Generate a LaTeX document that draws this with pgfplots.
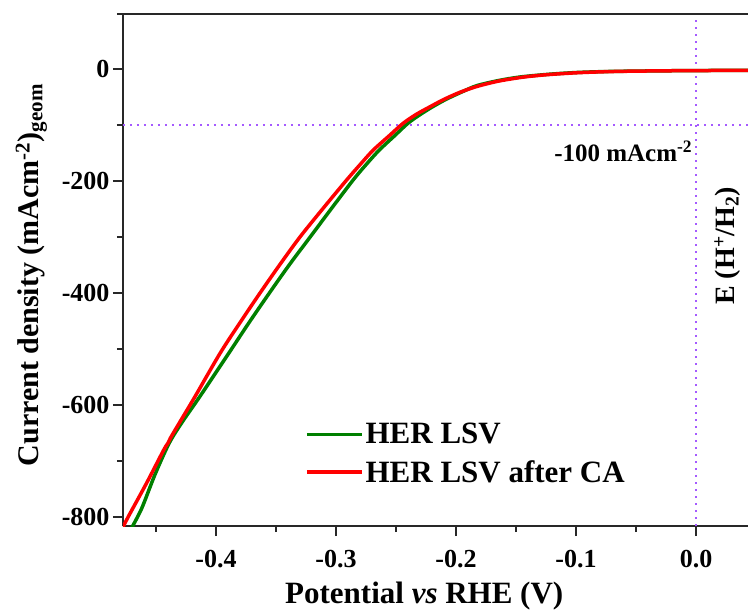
\documentclass[border=0pt]{standalone}
\usepackage{fontspec}
\setmainfont{Liberation Serif}
\usepackage{pgfplots}
\pgfplotsset{compat=1.18}
\definecolor{myviolet}{RGB}{165,90,255}
\definecolor{mygreen}{RGB}{0,128,0}
\definecolor{axc}{RGB}{40,40,40}
\begin{document}
\begin{tikzpicture}
\begin{axis}[
 name=ax,
 scale only axis, width=625pt, height=512pt,
 xmin=-0.4775, xmax=0.0433, ymin=-816, ymax=98,
 axis lines*=left,
 axis line style={line width=2pt, color=axc},
 tick align=outside,
 major tick length=10pt, minor tick length=6pt,
 every tick/.style={line width=1.5pt, axc},
 xtick={-0.4,-0.3,-0.2,-0.1,0.0},
 xticklabels={-0.4,-0.3,-0.2,-0.1,0.0},
 minor xtick={-0.45,-0.35,-0.25,-0.15,-0.05},
 ytick={-800,-600,-400,-200,0},
 yticklabels={-800,-600,-400,-200,0},
 minor ytick={-700,-500,-300,-100},
 tick label style={font=\fontsize{26}{31}\selectfont\bfseries},
 xticklabel style={yshift=-11pt},
 xlabel={Potential \textit{vs} RHE (V)},
 ylabel={Current density (mAcm\textsuperscript{-2})\textsubscript{geom}},
 xlabel style={at={(axis description cs:0.482,-0.152)}, anchor=base, font=\fontsize{31}{37}\selectfont\bfseries},
 ylabel style={at={(axis description cs:-0.135,0.49)}, anchor=base, font=\fontsize{30}{36}\selectfont\bfseries},
 legend style={at={(0.291,0.205)}, anchor=north west, draw=none, fill=none, font=\fontsize{31}{37}\selectfont\bfseries, row sep=11pt, inner sep=0pt},
 legend cell align=left,
 legend image code/.code={\draw[#1] (0pt,0pt) -- (55pt,0pt);},
]
\addplot[myviolet, line width=2pt, dash pattern=on 2pt off 5pt, forget plot] coordinates {(-0.4775,-100) (0.0433,-100)};
\addplot[myviolet, line width=2pt, dash pattern=on 2pt off 5pt, forget plot] coordinates {(0,-816) (0,98)};
\addplot[mygreen, line width=3.5pt, smooth, tension=0.5] coordinates {
(0.0433,-2.5) (0.0,-3) (-0.03,-3.5) (-0.06,-4.2) (-0.08,-5) (-0.10,-6.5) (-0.122,-9.5) (-0.1467,-14.5) (-0.165,-21) (-0.1828,-30) (-0.195,-41) (-0.208,-54) (-0.219,-67) (-0.2295,-81) (-0.240,-97) (-0.2515,-120) (-0.264,-145) (-0.275,-171) (-0.2856,-198) (-0.303,-247) (-0.3215,-300) (-0.339,-350) (-0.3555,-400) (-0.3725,-453) (-0.3895,-508) (-0.4135,-585) (-0.428,-630) (-0.439,-668) (-0.451,-725) (-0.462,-785) (-0.471,-822)};
\addlegendentry{HER LSV}
\addplot[red, line width=3.5pt, smooth, tension=0.5] coordinates {
(0.0433,-2.5) (0.02,-2.8) (0.0,-3) (-0.03,-3.5) (-0.06,-4.3) (-0.08,-5.3) (-0.10,-7) (-0.122,-10) (-0.135,-12.5) (-0.1467,-15.5) (-0.165,-22) (-0.1828,-31.5) (-0.197,-42) (-0.2106,-55) (-0.222,-68) (-0.233,-81) (-0.244,-97) (-0.256,-120) (-0.269,-145) (-0.28,-171) (-0.291,-198) (-0.31,-247) (-0.33,-300) (-0.347,-350) (-0.3633,-400) (-0.38,-453) (-0.3967,-508) (-0.4175,-585) (-0.430,-630) (-0.438,-659) (-0.440,-668) (-0.4435,-680) (-0.458,-740) (-0.473,-799) (-0.4785,-822)};
\addlegendentry{HER LSV after CA}
\node[anchor=base east, font=\fontsize{25}{30}\selectfont\bfseries, inner sep=0pt] at (axis cs:-0.003,-166) {-100 mAcm\textsuperscript{-2}};
\node[rotate=90, font=\fontsize{28}{33}\selectfont\bfseries, inner sep=0pt] at (axis cs:0.026,-316) {E (H\textsuperscript{+}/H\textsubscript{2})};
\end{axis}
\draw[line width=2pt, axc] ([xshift=-6pt]ax.north west) -- (ax.north east);
\pgfresetboundingbox
\path (-123pt,-85pt) rectangle (625pt,526pt);
\end{tikzpicture}
\end{document}
